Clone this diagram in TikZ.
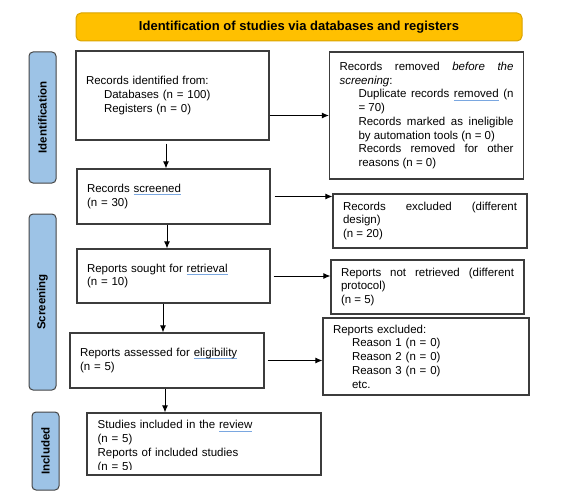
\documentclass[tikz,border=0pt]{standalone}
\usepackage{fontspec}
\setmainfont{Liberation Sans}
\usetikzlibrary{arrows.meta}
\definecolor{bannerfill}{HTML}{FFC000}
\definecolor{bannerline}{HTML}{D9A300}
\definecolor{phasefill}{HTML}{9DC3E6}
\definecolor{phaseline}{HTML}{454545}
\definecolor{boxline}{HTML}{3C3C3C}
\definecolor{spellline}{HTML}{7AA7E0}
\newsavebox\spellbox
\newcommand\spellmark[1]{\sbox\spellbox{#1}\rlap{\color{spellline}\rule[-2.4pt]{\wd\spellbox}{0.7pt}}#1}
\hyphenpenalty=10000
\tolerance=10000

\begin{document}
\begin{tikzpicture}[x=1pt, y=-1pt,
    font=\fontsize{11.5}{13.7}\selectfont,
    box/.style={draw=boxline, line width=1.1pt, fill=white, inner xsep=10pt, inner ysep=3pt},
    phase/.style={draw=phaseline, fill=phasefill, line width=1pt, rounded corners=4pt,
                  rotate=90, minimum height=27pt, inner sep=0pt,
                  font=\fontsize{11.5}{13.7}\selectfont\bfseries}]
\useasboundingbox (0,0) rectangle (575,503);
        % Draw the title and the phases
        \node[draw=bannerline, fill=bannerfill, line width=1pt, rounded corners=5pt,
              minimum width=446pt, minimum height=28pt,
              font=\fontsize{13}{15}\selectfont\bfseries] at (299, 27) (title)
              {Identification of studies via databases and registers};
        \node[phase, minimum width=131pt] at (42.5, 117.5) (phaseid)  {Identification};
        \node[phase, minimum width=176pt] at (42.5, 302)   (phasescr) {Screening};
        \node[phase, minimum width=78pt]  at (45.5, 451)   (phaseinc) {Included};
        % Draw the boxes
        \node[box, minimum width=193pt, minimum height=89pt, text width=173pt, align=left]
            at (172.5, 95.5) (identified)
            {Records identified from:\\\hspace*{18pt}Databases (n = 100)\\\hspace*{18pt}Registers (n = 0)};
        \node[box, minimum width=193pt, minimum height=127pt, text width=174pt, align=justify]
            at (426.5, 115.5) (removed)
            {Records removed \textit{before the screening}:\par\leftskip=19pt
             Duplicate records \spellmark{removed} (n = 70)\par
             Records marked as ineligible by automation tools (n = 0)\par
             Records removed for other reasons (n = 0)\par};
        \node[box, minimum width=193pt, minimum height=55pt, text width=173pt, align=left]
            at (173.5, 196.5) (screened) {Records \spellmark{screened}\\(n = 30)};
        \node[box, minimum width=194pt, minimum height=54pt, text width=174pt, align=justify]
            at (430, 221) (excluded) {Records excluded (different design)\par (n = 20)\par};
        \node[box, minimum width=193pt, minimum height=54pt, text width=173pt, align=left]
            at (173.5, 276) (sought) {Reports sought for \spellmark{retrieval}\\(n = 10)};
        \node[box, minimum width=193pt, minimum height=54pt, text width=173pt, align=justify]
            at (427.5, 287) (notretrieved) {Reports not retrieved (different protocol)\par (n = 5)\par};
        \node[box, minimum width=194pt, minimum height=55pt, text width=174pt, align=left]
            at (167, 360.5) (assessed) {Reports assessed for \spellmark{eligibility}\\(n = 5)};
        \node[box, minimum width=206pt, minimum height=77pt, text width=186pt, align=left]
            at (426, 356.5) (reasons)
            {Reports excluded:\\\hspace*{19pt}Reason 1 (n = 0)\\\hspace*{19pt}Reason 2 (n = 0)\\
             \hspace*{19pt}Reason 3 (n = 0)\\\hspace*{19pt}etc.};
        \node[box, minimum width=234pt, minimum height=62pt] at (204, 444) (included) {};
        \begin{scope}
        \clip (included.north west) rectangle ([yshift=6pt]included.south east);
        \node[anchor=north west, inner sep=0pt, text width=214pt, align=left]
            at ([xshift=11pt, yshift=-8pt]included.north west) (includedtext)
            {Studies included in the \spellmark{review}\\(n = 5)\\Reports of included studies\\(n = 5)};
        \end{scope}
        % Connect the boxes with arrows
        \path[->, >={Latex[length=7pt, width=6pt]}, line width=1pt]
            ([xshift=-6.5pt, yshift=-3pt]identified.south) edge ([xshift=-6.5pt]identified.south |- screened.north)
            ([xshift=-6.5pt]screened.south)  edge ([xshift=-6.5pt]screened.south |- sought.north)
            ([xshift=-10.5pt]sought.south)   edge ([xshift=-10.5pt]sought.south |- assessed.north)
            ([xshift=-2pt]assessed.south)    edge ([xshift=-2pt]assessed.south |- included.north)
            (identified.east |- removed.west) edge (removed.west)
            ([xshift=4pt]screened.east)      edge (screened.east -| excluded.west)
            ([xshift=3pt]sought.east)        edge (sought.east -| notretrieved.west)
            ([xshift=3pt]assessed.east)      edge (assessed.east -| reasons.west);
\end{tikzpicture}
\end{document}
